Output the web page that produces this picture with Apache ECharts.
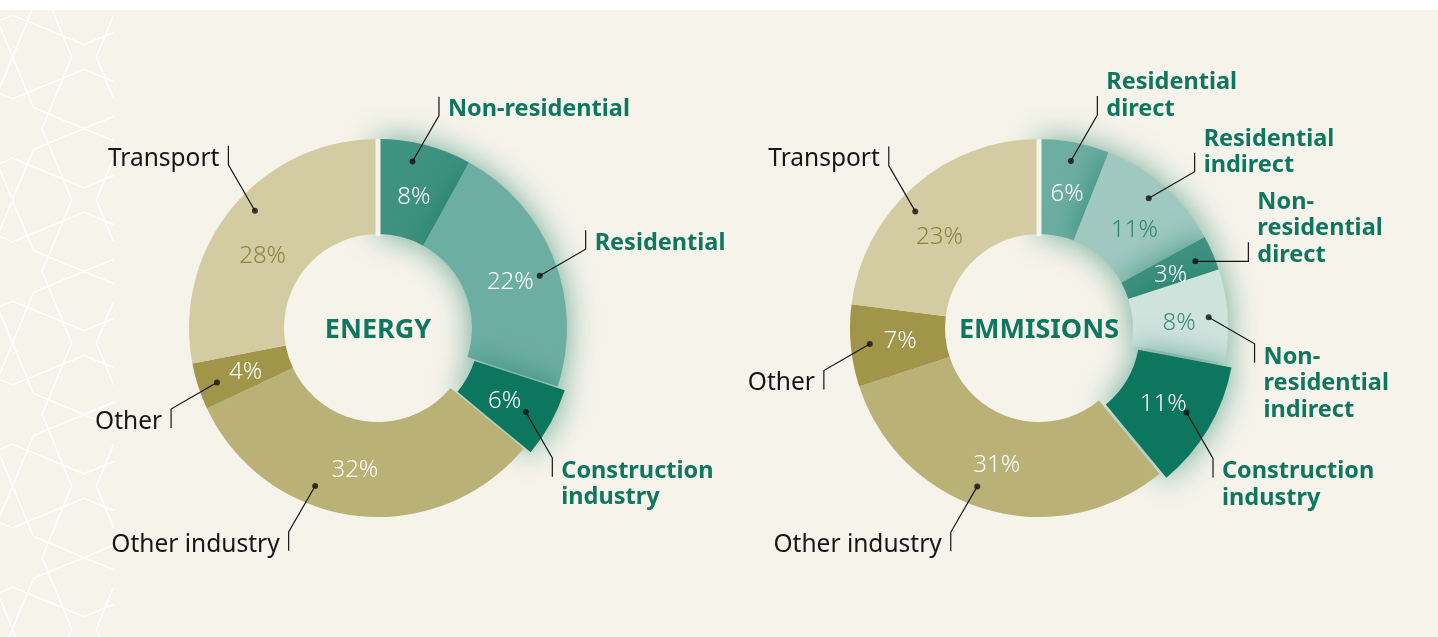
<!DOCTYPE html>
<html>
<head>
<meta charset="utf-8">
<title>Energy and emissions</title>
<script src="https://cdn.jsdelivr.net/npm/echarts@6/dist/echarts.min.js"></script>
<style>
html, body { margin: 0; padding: 0; background: #ffffff; }
#mainView {
    width: 1438px;
    height: 637px;
    background: linear-gradient(#ffffff 0, #ffffff 10px, #f5f3ea 10px);
}
</style>
</head>
<body>
<div id="mainView"></div>
<script>
// shares, in percent, clockwise from 12 o'clock
var energyCategories = ['Non-residential', 'Residential', 'Construction\nindustry', 'Other industry', 'Other', 'Transport'];
var energyValues = [8, 22, 6, 32, 4, 28];

var emissionCategories = ['Residential\ndirect', 'Residential\nindirect', 'Non-\nresidential\ndirect', 'Non-\nresidential\nindirect',
    'Construction\nindustry', 'Other industry', 'Other', 'Transport'];
var emissionValues = [6, 11, 3, 8, 11, 31, 7, 23];

// styles
var energyColors = ['#3f9180', '#6daea2', '#0d765e', '#b9b176', '#a19549', '#d3cba1'];
var energyPctColors = ['#ffffff', '#ffffff', '#ffffff', '#ffffff', '#ffffff', '#8c8340'];
var energyBuilding = [true, true, true, false, false, false];
var energyExplode = [false, false, true, false, false, false];
var energyLeaderDir = [30, 60, 150, 210, 240, 330];
var energyDotNudge = [-2.7, 3.7, 0.8, 14.5, -0.7, 4];     // degrees off the slice middle
var energyPctNudge = [[0, 9], [-2, 7], [-7, 0], [-5, -1], [5, 0], [-4, 20]];

var emissionColors = ['#6daea2', '#9fc9c0', '#3f9180', '#cfe3dd', '#0d765e', '#b9b176', '#a19549', '#d3cba1'];
var emissionPctColors = ['#ffffff', '#2f8571', '#ffffff', '#3a8a78', '#ffffff', '#ffffff', '#ffffff', '#8c8340'];
var emissionBuilding = [true, true, true, true, true, false, false, false];
var emissionExplode = [false, false, false, false, true, false, false, false];
var emissionLeaderDir = [30, 60, 90, 120, 150, 210, 240, 330];
var emissionDotNudge = [0, -1.2, 0.3, 0, -0.8, 5.1, 0, -5.3];
var emissionPctNudge = [[1, 8], [0, 11], [-1, 5], [-4, 4], [-7, -1], [-2, -2], [5, 0], [-4, 18]];

var FONT = "'Noto Sans', sans-serif";
var GREEN = '#0f7660';
var BG = '#f5f3ea';
var R_IN = 94, R_OUT = 189, DOT_R = 170;
var LEADER_LEN = 53, BAR_LEN = 19, TEXT_GAP = 9, LINE_H = 26.5, TEXT_DROP = 3.5;

var energyCenter = [378, 328];
var emissionCenter = [1039, 328];

var chart;

function sum(arr) {
    var s = 0;
    for (var i = 0; i < arr.length; i++) s += arr[i];
    return s;
}

function ringData(names, values, colors, pctColors, glow, explode) {
    var out = [];
    for (var i = 0; i < values.length; i++) {
        var item = {
            name: names[i],
            value: values[i],
            itemStyle: { color: colors[i] },
            label: { color: pctColors[i] }
        };
        if (glow[i]) {
            item.itemStyle.shadowBlur = 30;
            item.itemStyle.shadowColor = 'rgba(14,118,94,0.6)';
        }
        if (explode[i]) item.selected = true;
        out.push(item);
    }
    return out;
}

function nameData(names, values, glow) {
    var out = [];
    for (var i = 0; i < values.length; i++) {
        out.push({
            name: names[i],
            value: values[i],
            label: glow[i] ? { color: GREEN, fontWeight: 'bold', fontSize: 23.5 }
                           : { color: '#161616', fontWeight: 'normal', fontSize: 24.5 }
        });
    }
    return out;
}

// angle value of each dot: slice middle plus a small nudge
function dotAngles(values, nudge) {
    var out = [], acc = 0, total = sum(values);
    for (var i = 0; i < values.length; i++) {
        out.push(acc + values[i] / 2 + nudge[i] * total / 360);
        acc += values[i];
    }
    return out;
}

function dotData(values, nudge) {
    var ang = dotAngles(values, nudge);
    var out = [];
    for (var i = 0; i < ang.length; i++) out.push([DOT_R, ang[i]]);
    return out;
}

// dot -> slanted leader -> short vertical bar beside the text
function leaderLayout(polarIndex, values, nudge, dirs) {
    var ang = dotAngles(values, nudge);
    return function (params) {
        var p0 = params.labelLinePoints[0];
        try {
            var p = chart.convertToPixel({ polarIndex: polarIndex }, [DOT_R, ang[params.dataIndex]]);
            if (p && isFinite(p[0])) p0 = p;
        } catch (e) {}
        var a = dirs[params.dataIndex] * Math.PI / 180;
        var px = p0[0] + LEADER_LEN * Math.sin(a);
        var py = p0[1] - LEADER_LEN * Math.cos(a);
        var up = Math.cos(a) > -0.01;
        var right = Math.sin(a) > 0;
        return {
            x: right ? px + TEXT_GAP : px - TEXT_GAP,
            y: (up ? py + 3.75 : py - 3.75) + TEXT_DROP,
            align: right ? 'left' : 'right',
            verticalAlign: up ? 'bottom' : 'top',
            labelLinePoints: [[p0[0], p0[1]], [px, py], [px, up ? py - BAR_LEN : py + BAR_LEN]]
        };
    };
}

function pctLayout(nudge) {
    return function (params) {
        var d = nudge[params.dataIndex];
        return { dx: d[0], dy: d[1] };
    };
}

function ringSeries(center, names, values, colors, pctColors, glow, explode, pctNudge) {
    return {
        type: 'pie',
        center: center,
        radius: [R_IN, R_OUT],
        startAngle: 90,
        clockwise: true,
        avoidLabelOverlap: false,
        selectedMode: 'multiple',
        selectedOffset: 8,
        emphasis: { disabled: true },
        label: {
            show: true,
            position: 'inside',
            formatter: '{c}%',
            fontFamily: FONT,
            fontSize: 24,
            fontWeight: 300
        },
        labelLine: { show: false },
        labelLayout: pctLayout(pctNudge),
        data: ringData(names, values, colors, pctColors, glow, explode)
    };
}

function nameSeries(polarIndex, center, names, values, glow, nudge, dirs) {
    return {
        type: 'pie',
        center: center,
        radius: [0, DOT_R],
        startAngle: 90,
        clockwise: true,
        silent: true,
        avoidLabelOverlap: false,
        emphasis: { disabled: true },
        itemStyle: { color: 'rgba(0,0,0,0)' },
        label: {
            show: true,
            position: 'outside',
            formatter: '{b}',
            fontFamily: FONT,
            lineHeight: LINE_H
        },
        labelLine: {
            show: true,
            length: 10,
            length2: 10,
            lineStyle: { color: '#161616', width: 1.2 }
        },
        labelLayout: leaderLayout(polarIndex, values, nudge, dirs),
        z: 4,
        data: nameData(names, values, glow)
    };
}

function clipSeg(s, xmin, ymin, xmax, ymax) {
    var x1 = s[0], y1 = s[1], dx = s[2] - s[0], dy = s[3] - s[1];
    var t0 = 0, t1 = 1;
    var p = [-dx, dx, -dy, dy];
    var q = [x1 - xmin, xmax - x1, y1 - ymin, ymax - y1];
    for (var i = 0; i < 4; i++) {
        if (p[i] === 0) {
            if (q[i] < 0) return null;
        } else {
            var t = q[i] / p[i];
            if (p[i] < 0) { if (t > t1) return null; if (t > t0) t0 = t; }
            else { if (t < t0) return null; if (t < t1) t1 = t; }
        }
    }
    return [x1 + t0 * dx, y1 + t0 * dy, x1 + t1 * dx, y1 + t1 * dy];
}

// octagon / square star lattice in the left strip
function patternElements() {
    var P = 143, a = P / 2, t8 = Math.tan(Math.PI / 8);
    var rOct = a * t8, m = a * t8, rCross = m * t8;
    var segs = [];
    function u(deg, r) {
        var t = deg * Math.PI / 180;
        return [r * Math.sin(t), -r * Math.cos(t)];
    }
    for (var i = -1; i <= 1; i++) {
        for (var j = -1; j <= 5; j++) {
            var cx = 12.5 + i * P, cy = -14.5 + j * P;
            for (var k = 0; k < 8; k++) {
                var mp = u(k * 45, a);
                for (var s = -1; s <= 1; s += 2) {
                    var v = u(k * 45 + s * 45, rOct);
                    segs.push([cx + mp[0], cy + mp[1], cx + v[0], cy + v[1]]);
                }
            }
            var qx = cx + a, qy = cy + a;
            for (k = 0; k < 4; k++) {
                var dm = u(45 + k * 90, m);
                for (s = -1; s <= 1; s += 2) {
                    var w = u(45 + k * 90 + s * 45, rCross);
                    segs.push([qx + dm[0], qy + dm[1], qx + w[0], qy + w[1]]);
                }
            }
        }
    }
    var els = [];
    for (var n = 0; n < segs.length; n++) {
        var c = clipSeg(segs[n], 0, 10, 113.5, 637);
        if (!c) continue;
        els.push({
            type: 'line',
            z: 0,
            silent: true,
            shape: { x1: c[0], y1: c[1], x2: c[2], y2: c[3] },
            style: { stroke: '#ffffff', lineWidth: 1.6 }
        });
    }
    return els;
}

function hiddenAngle(idx, total) {
    return {
        polarIndex: idx, type: 'value', min: 0, max: total, startAngle: 90, clockwise: true,
        axisLine: { show: false }, axisTick: { show: false }, axisLabel: { show: false }, splitLine: { show: false }
    };
}

function hiddenRadius(idx) {
    return {
        polarIndex: idx, type: 'value', min: 0, max: R_OUT,
        axisLine: { show: false }, axisTick: { show: false }, axisLabel: { show: false }, splitLine: { show: false }
    };
}

function showMainView() {
    chart = echarts.init(document.getElementById('mainView'));
    var titles = [
        { text: 'ENERGY', pos: energyCenter },
        { text: 'EMMISIONS', pos: emissionCenter }
    ];
    var graphics = patternElements();
    for (var i = 0; i < titles.length; i++) {
        graphics.push({
            type: 'text',
            x: titles[i].pos[0],
            y: titles[i].pos[1] + 2,
            z: 20,
            style: {
                text: titles[i].text,
                align: 'center',
                verticalAlign: 'middle',
                fill: GREEN,
                font: 'bold 27px ' + FONT
            }
        });
    }

    chart.setOption({
        animation: false,
        polar: [
            { center: energyCenter, radius: R_OUT },
            { center: emissionCenter, radius: R_OUT }
        ],
        angleAxis: [hiddenAngle(0, sum(energyValues)), hiddenAngle(1, sum(emissionValues))],
        radiusAxis: [hiddenRadius(0), hiddenRadius(1)],
        graphic: { elements: graphics },
        series: [
            ringSeries(energyCenter, energyCategories, energyValues, energyColors, energyPctColors, energyBuilding, energyExplode, energyPctNudge),
            ringSeries(emissionCenter, emissionCategories, emissionValues, emissionColors, emissionPctColors, emissionBuilding, emissionExplode, emissionPctNudge),
            nameSeries(0, energyCenter, energyCategories, energyValues, energyBuilding, energyDotNudge, energyLeaderDir),
            nameSeries(1, emissionCenter, emissionCategories, emissionValues, emissionBuilding, emissionDotNudge, emissionLeaderDir),
            {
                // gap at 12 o'clock
                type: 'line', coordinateSystem: 'polar', polarIndex: 0, z: 3, silent: true,
                showSymbol: false, lineStyle: { color: BG, width: 5 },
                data: [[R_IN - 2, 0], [R_OUT + 2, 0]]
            },
            {
                type: 'line', coordinateSystem: 'polar', polarIndex: 1, z: 3, silent: true,
                showSymbol: false, lineStyle: { color: BG, width: 5 },
                data: [[R_IN - 2, 0], [R_OUT + 2, 0]]
            },
            {
                type: 'scatter', coordinateSystem: 'polar', polarIndex: 0, z: 6, silent: true,
                symbolSize: 6, itemStyle: { color: '#111111' },
                data: dotData(energyValues, energyDotNudge)
            },
            {
                type: 'scatter', coordinateSystem: 'polar', polarIndex: 1, z: 6, silent: true,
                symbolSize: 6, itemStyle: { color: '#111111' },
                data: dotData(emissionValues, emissionDotNudge)
            }
        ]
    });
}

showMainView();
</script>
</body>
</html>
